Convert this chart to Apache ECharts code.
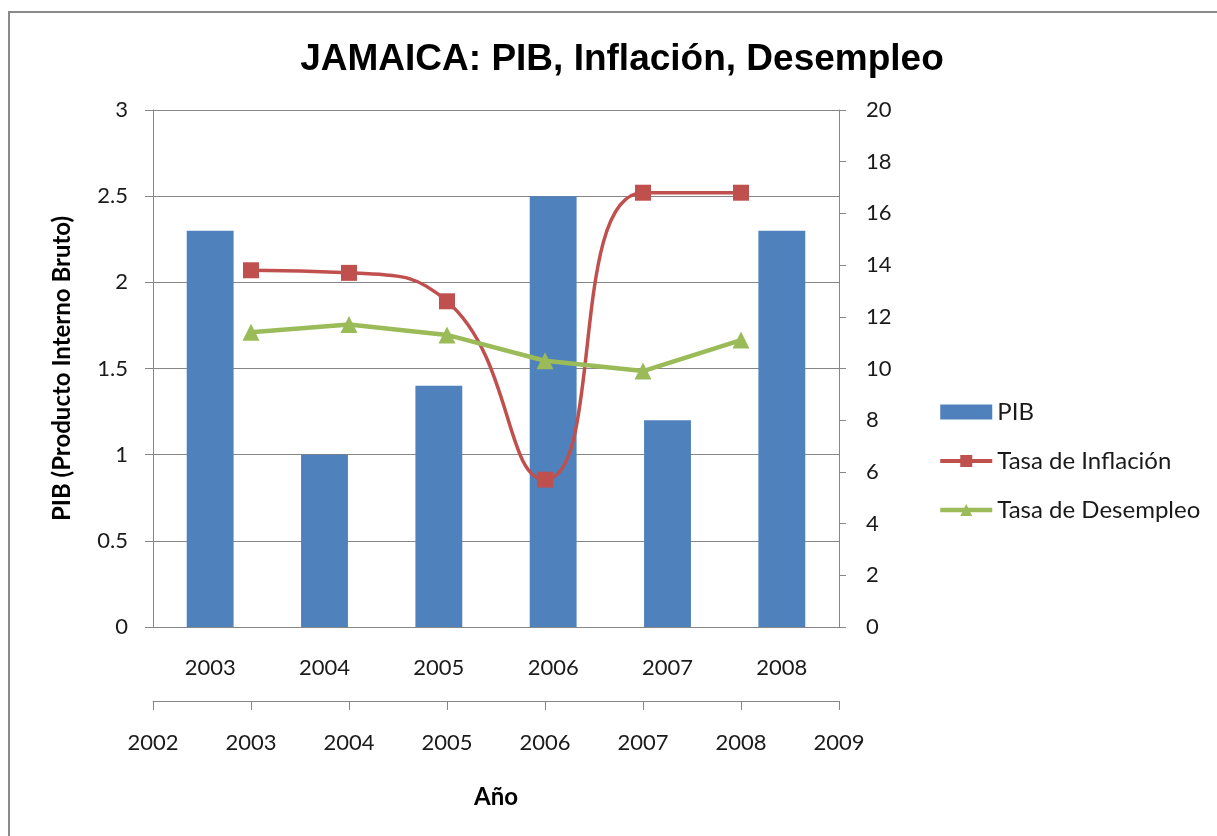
<!DOCTYPE html>
<html>
<head>
<meta charset="utf-8">
<title>JAMAICA: PIB, Inflación, Desempleo</title>
<script src="https://cdn.jsdelivr.net/npm/echarts@6/dist/echarts.min.js"></script>
<style>
  html, body { margin: 0; padding: 0; background: #fff; }
  #chart { width: 1217px; height: 836px; }
</style>
</head>
<body>
<div id="chart"></div>
<script>
// data
const years = ['2003', '2004', '2005', '2006', '2007', '2008']
const yearNums = [2003, 2004, 2005, 2006, 2007, 2008]
const pib = [2.3, 1.0, 1.4, 2.5, 1.2, 2.3]
const inflacion = [13.8, 13.7, 12.6, 5.7, 16.8, 16.8]
const desempleo = [11.4, 11.7, 11.3, 10.3, 9.9, 11.1]

const FONT = 'Lato'
const GRID = '#868686'
const TXT = '#1a1a1a'
const TICK_SIZE = 22

const chart = echarts.init(document.getElementById('chart'))

const option = {
  backgroundColor: '#fff',
  animation: false,
  graphic: [
    {
      type: 'rect',
      shape: { x: 9, y: 12, width: 1220, height: 840 },
      style: { fill: 'none', stroke: '#8a8a8a', lineWidth: 2 },
      silent: true
    }
  ],
  title: {
    text: 'JAMAICA: PIB, Inflación, Desempleo',
    left: 617,
    top: 36,
    textAlign: 'center',
    textStyle: {
      fontFamily: 'Liberation Sans',
      fontWeight: 'bold',
      fontSize: 37,
      color: '#000'
    }
  },
  legend: {
    orient: 'vertical',
    left: 933,
    top: 395,
    itemWidth: 52,
    itemHeight: 15,
    itemGap: 25,
    textStyle: { fontFamily: FONT, fontSize: 24, color: TXT },
    data: [
      { name: 'PIB', icon: 'rect' },
      { name: 'Tasa de Inflación', lineStyle: { width: 4 } },
      { name: 'Tasa de Desempleo', lineStyle: { width: 4.5 } }
    ]
  },
  grid: {
    left: 153,
    right: 378,
    top: 110,
    bottom: 209,
    containLabel: false
  },
  xAxis: [
    {
      type: 'category',
      position: 'bottom',
      data: years,
      boundaryGap: true,
      axisLine: { onZero: false, lineStyle: { color: GRID, width: 1 } },
      axisTick: { show: false },
      axisLabel: { margin: 30, fontFamily: FONT, fontSize: TICK_SIZE, color: TXT }
    },
    {
      type: 'value',
      position: 'bottom',
      offset: 74,
      min: 2002,
      max: 2009,
      interval: 1,
      name: 'Año',
      nameLocation: 'middle',
      nameGap: 84,
      nameTextStyle: { fontFamily: FONT, fontWeight: 'bold', fontSize: 24, color: '#000' },
      splitLine: { show: false },
      axisLine: { show: true, onZero: false, lineStyle: { color: GRID, width: 1 } },
      axisTick: { show: true, length: 9, lineStyle: { color: GRID } },
      axisLabel: {
        margin: 31,
        fontFamily: FONT,
        fontSize: TICK_SIZE,
        color: TXT,
        formatter: v => String(v)
      }
    }
  ],
  yAxis: [
    {
      type: 'value',
      position: 'left',
      min: 0,
      max: 3,
      interval: 0.5,
      name: 'PIB (Producto Interno Bruto)',
      nameLocation: 'middle',
      nameGap: 79,
      nameTextStyle: { fontFamily: FONT, fontWeight: 'bold', fontSize: 24, color: '#000' },
      axisLine: { show: true, lineStyle: { color: GRID, width: 1 } },
      axisTick: { show: true, length: 8, lineStyle: { color: GRID } },
      splitLine: { show: true, lineStyle: { color: GRID, width: 1 } },
      axisLabel: { margin: 25, fontFamily: FONT, fontSize: TICK_SIZE, color: TXT }
    },
    {
      type: 'value',
      position: 'right',
      min: 0,
      max: 20,
      interval: 2,
      axisLine: { show: true, lineStyle: { color: GRID, width: 1 } },
      axisTick: { show: true, length: 7, lineStyle: { color: GRID } },
      splitLine: { show: false },
      axisLabel: { margin: 27, fontFamily: FONT, fontSize: TICK_SIZE, color: TXT }
    }
  ],
  series: [
    {
      name: 'PIB',
      type: 'bar',
      xAxisIndex: 0,
      yAxisIndex: 0,
      data: pib,
      barCategoryGap: '59%',
      itemStyle: { color: '#4F81BD' }
    },
    {
      name: 'Tasa de Inflación',
      type: 'line',
      xAxisIndex: 1,
      yAxisIndex: 1,
      data: yearNums.map((y, i) => [y, inflacion[i]]),
      smooth: 0.5,
      symbol: 'rect',
      symbolSize: 16,
      lineStyle: { color: '#C0504D', width: 3.5 },
      itemStyle: { color: '#C0504D' }
    },
    {
      name: 'Tasa de Desempleo',
      type: 'line',
      xAxisIndex: 1,
      yAxisIndex: 1,
      data: yearNums.map((y, i) => [y, desempleo[i]]),
      symbol: 'triangle',
      symbolSize: 17,
      lineStyle: { color: '#9BBB59', width: 4.5 },
      itemStyle: { color: '#9BBB59' }
    }
  ]
}

chart.setOption(option)
</script>
</body>
</html>
